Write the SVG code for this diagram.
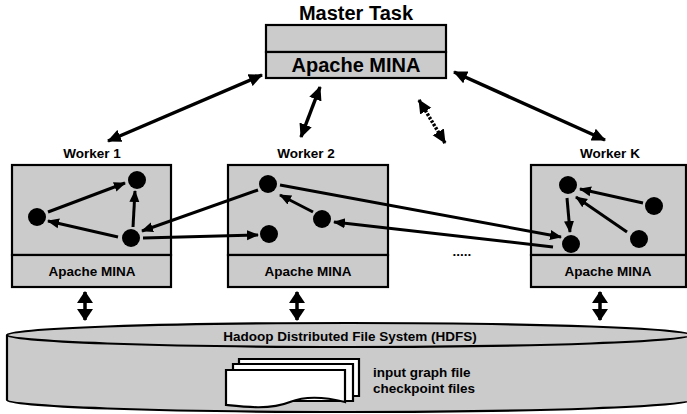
<svg xmlns="http://www.w3.org/2000/svg" width="687" height="414" viewBox="0 0 687 414">
<style>
.box{fill:#cbcbcb;stroke:#000;stroke-width:2.2}
.t{font-family:"Liberation Sans",Arial,sans-serif;font-weight:bold;fill:#000;text-anchor:middle}
.s{font-size:13.5px}
.b{font-size:20px}
.node{fill:#000}
.e{stroke:#000;stroke-width:3;fill:none}
.m{stroke:#000;stroke-width:3.5;fill:none}
.d{stroke:#000;stroke-width:3.5;fill:none}
.page{fill:#fff;stroke:#000;stroke-width:2.2}
</style>
<defs>
<marker id="ah" viewBox="0 0 12 12" markerWidth="12" markerHeight="12" refX="11" refY="6" orient="auto-start-reverse" markerUnits="userSpaceOnUse">
<path d="M0,1 L12,6 L0,11 z" fill="#000"/>
</marker>
<marker id="mh" viewBox="0 0 14 14" markerWidth="14" markerHeight="14" refX="13" refY="7" orient="auto-start-reverse" markerUnits="userSpaceOnUse">
<path d="M0,0.5 L14,7 L0,13.5 z" fill="#000"/>
</marker>
<marker id="big" viewBox="0 0 12 16" markerWidth="12" markerHeight="16" refX="11" refY="8" orient="auto-start-reverse" markerUnits="userSpaceOnUse">
<path d="M0,0 L12,8 L0,16 z" fill="#000"/>
</marker>
</defs>

<g id="hdfs">
<path class="box" d="M7,335 L7,400 A342,12 0 0 0 691,400 L691,335"/>
<ellipse class="box" cx="349" cy="335" rx="342" ry="12"/>
<text class="t s" x="350" y="341">Hadoop Distributed File System (HDFS)</text>
<g id="files">
<path class="page" d="M239,359 L359,359 L359,396 L239,396 z"/>
<path class="page" d="M233,364 L353,364 L353,401 L233,401 z"/>
<path class="page" d="M226,370 L345,370 L345,402 C325,397 305,396 290,402 C270,410 245,407 226,405 z"/>
</g>
<text class="t s" x="373" y="377" style="text-anchor:start">input graph file</text>
<text class="t s" x="373" y="393" style="text-anchor:start">checkpoint files</text>
</g>

<g id="master">
<text class="t b" x="356" y="20">Master Task</text>
<rect class="box" x="266" y="25" width="180" height="27"/>
<rect class="box" x="266" y="52" width="180" height="26"/>
<text class="t b" x="356" y="72">Apache MINA</text>
</g>

<g id="worker1">
<text class="t s" x="92" y="158">Worker 1</text>
<rect class="box" x="12" y="165" width="159" height="90"/>
<rect class="box" x="12" y="255" width="159" height="32"/>
<text class="t s" x="92" y="276">Apache MINA</text>
<circle class="node" cx="37" cy="217" r="9"/>
<circle class="node" cx="137" cy="180" r="9"/>
<circle class="node" cx="131" cy="238" r="9"/>
</g>

<g id="worker2">
<text class="t s" x="306" y="158">Worker 2</text>
<rect class="box" x="228" y="165" width="160" height="90"/>
<rect class="box" x="228" y="255" width="160" height="32"/>
<text class="t s" x="308" y="276">Apache MINA</text>
<circle class="node" cx="268" cy="184" r="9"/>
<circle class="node" cx="322" cy="219" r="9"/>
<circle class="node" cx="269" cy="234" r="9"/>
</g>

<g id="workerK">
<text class="t s" x="610" y="158">Worker K</text>
<rect class="box" x="531" y="165" width="155" height="90"/>
<rect class="box" x="531" y="255" width="155" height="32"/>
<text class="t s" x="608" y="276">Apache MINA</text>
<circle class="node" cx="568" cy="185" r="9"/>
<circle class="node" cx="654" cy="206" r="9"/>
<circle class="node" cx="639" cy="239" r="9"/>
<circle class="node" cx="571" cy="244" r="9"/>
</g>

<text class="t s" x="462" y="256">.....</text>

<g id="connectors">
<line class="m" x1="108" y1="141" x2="262" y2="75" marker-start="url(#mh)" marker-end="url(#mh)"/>
<line class="m" x1="301" y1="137" x2="320" y2="87" marker-start="url(#mh)" marker-end="url(#mh)"/>
<line class="m" x1="419" y1="100" x2="445" y2="143" stroke-dasharray="2.5,1.5" marker-start="url(#mh)" marker-end="url(#mh)"/>
<line class="m" x1="454" y1="72" x2="605" y2="140" marker-start="url(#mh)" marker-end="url(#mh)"/>

<line class="d" x1="85" y1="292" x2="85" y2="320" marker-start="url(#big)" marker-end="url(#big)"/>
<line class="d" x1="297" y1="292" x2="297" y2="320" marker-start="url(#big)" marker-end="url(#big)"/>
<line class="d" x1="600" y1="292" x2="600" y2="320" marker-start="url(#big)" marker-end="url(#big)"/>

<line class="e" x1="48" y1="212" x2="125" y2="183" marker-end="url(#ah)"/>
<line class="e" x1="133" y1="227" x2="135" y2="191" marker-end="url(#ah)"/>
<line class="e" x1="118" y1="237" x2="48" y2="221" marker-end="url(#ah)"/>
<line class="e" x1="143" y1="238" x2="258" y2="235" marker-end="url(#ah)"/>
<line class="e" x1="258" y1="190" x2="142" y2="231" marker-end="url(#ah)"/>
<line class="e" x1="313" y1="212" x2="280" y2="195" marker-end="url(#ah)"/>
<line class="e" x1="553" y1="247" x2="334" y2="222" marker-end="url(#ah)"/>
<line class="e" x1="280" y1="185" x2="561" y2="237" marker-end="url(#ah)"/>
<line class="e" x1="643" y1="203" x2="580" y2="189" marker-end="url(#ah)"/>
<line class="e" x1="627" y1="232" x2="576" y2="197" marker-end="url(#ah)"/>
<line class="e" x1="567" y1="198" x2="570" y2="232" marker-end="url(#ah)"/>
</g>
</svg>
